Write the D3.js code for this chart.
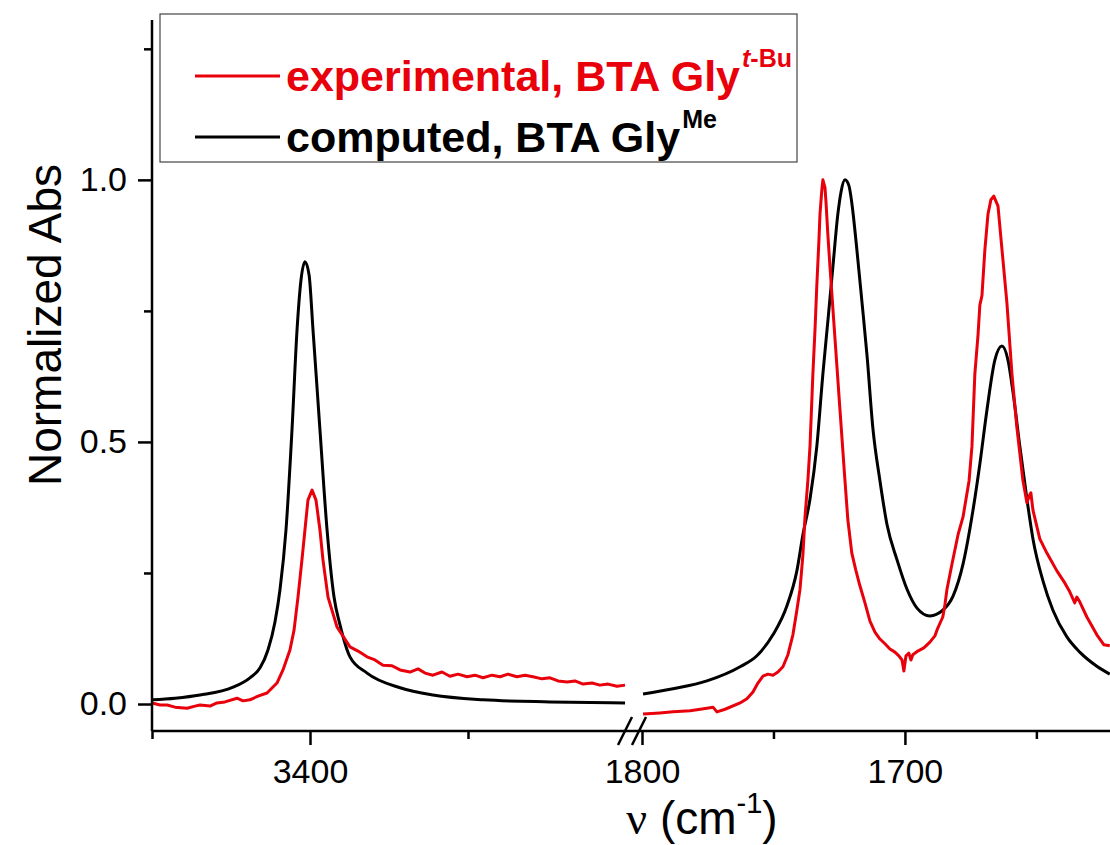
<!DOCTYPE html>
<html>
<head>
<meta charset="utf-8">
<script src="https://cdn.jsdelivr.net/npm/d3@7"></script>
<style>
  body { margin: 0; background: #fff; }
  text { font-family: Arial, "Liberation Sans", sans-serif; }
</style>
</head>
<body>
<div id="plot"></div>
<script>
// spectra: [wavenumber (cm-1), normalized abs]
var expLeft = [
  [3500, 0.002], [3494.9, -0.002], [3490.5, -0.002], [3485.4, -0.006], [3477.8, -0.008],
  [3472.8, -0.004], [3469.6, -0.002], [3463.3, -0.004], [3458.9, 0.002], [3453.8, 0.004],
  [3446.2, 0.011], [3442.4, 0.006], [3438, 0.008], [3432.9, 0.015], [3427.2, 0.021],
  [3420.9, 0.040], [3417.1, 0.065], [3412.7, 0.103], [3410.1, 0.141], [3407.6, 0.204],
  [3405.1, 0.275], [3403.2, 0.332], [3401.3, 0.389], [3398.7, 0.408], [3396.2, 0.389],
  [3393.7, 0.332], [3391.8, 0.275], [3388.6, 0.204], [3382.9, 0.147], [3374.7, 0.109],
  [3369.6, 0.101], [3363.9, 0.090], [3358.9, 0.084], [3353.8, 0.074], [3348.1, 0.073],
  [3343, 0.065], [3336.7, 0.061], [3331.6, 0.067], [3327.2, 0.059], [3322.2, 0.055],
  [3316.5, 0.061], [3311.4, 0.053], [3306.3, 0.057], [3300.6, 0.052], [3295.6, 0.055],
  [3290.5, 0.050], [3284.8, 0.055], [3279.7, 0.052], [3274.7, 0.057], [3269.0, 0.052],
  [3263.9, 0.055], [3258.9, 0.052], [3253.2, 0.048], [3248.1, 0.050], [3243.0, 0.044],
  [3237.3, 0.042], [3232.3, 0.044], [3227.2, 0.038], [3221.5, 0.040], [3216.5, 0.036],
  [3211.4, 0.038], [3205.7, 0.034], [3200.6, 0.036]
];
var calcLeft = [
  [3500, 0.008], [3485.4, 0.011], [3469.6, 0.017], [3448.7, 0.032], [3438, 0.050],
  [3431.6, 0.069], [3426.6, 0.103], [3422.2, 0.156], [3419, 0.218], [3415.2, 0.332],
  [3411.4, 0.523], [3408.2, 0.714], [3405.7, 0.809], [3403.2, 0.844], [3400.6, 0.819],
  [3398.1, 0.714], [3393.7, 0.523], [3389.2, 0.332], [3384.8, 0.204], [3381, 0.151],
  [3374.7, 0.090], [3363.9, 0.059], [3343, 0.031], [3322.2, 0.017], [3290.5, 0.008],
  [3248.1, 0.004], [3200.6, 0.002]
];
var expRight = [
  [1799.6, -0.019], [1793.2, -0.017], [1788.2, -0.015], [1781.7, -0.013], [1775.3, -0.008],
  [1773.0, -0.006], [1771.5, -0.015], [1768.4, -0.010], [1762.7, 0.002], [1760.1, 0.010],
  [1757.8, 0.023], [1755.9, 0.040], [1754.0, 0.053], [1752.1, 0.057], [1750.2, 0.055],
  [1748.3, 0.061], [1746.4, 0.071], [1744.5, 0.094], [1742.6, 0.132], [1741.1, 0.179],
  [1739.9, 0.219], [1738.8, 0.284], [1738.0, 0.357], [1736.9, 0.427], [1736.1, 0.492],
  [1735.0, 0.630], [1734.2, 0.714], [1733.5, 0.800], [1732.7, 0.885], [1732.3, 0.935],
  [1731.6, 0.981], [1731.2, 1.000], [1730.4, 0.985], [1730.0, 0.956], [1729.3, 0.895],
  [1728.5, 0.834], [1726.6, 0.697], [1724.7, 0.561], [1722.8, 0.426], [1721.7, 0.351],
  [1720.2, 0.288], [1718.7, 0.256], [1717.2, 0.227], [1715.2, 0.193], [1713.3, 0.158],
  [1711.4, 0.137], [1709.5, 0.124], [1707.6, 0.115], [1705.7, 0.105], [1703.8, 0.099],
  [1702.3, 0.092], [1701.1, 0.084], [1700.4, 0.063], [1699.6, 0.092], [1698.5, 0.097],
  [1697.7, 0.084], [1697.0, 0.094], [1695.1, 0.101], [1692.8, 0.107], [1690.5, 0.118],
  [1688.6, 0.130], [1687.5, 0.145], [1685.6, 0.166], [1684.8, 0.189], [1684.0, 0.219],
  [1682.1, 0.267], [1679.8, 0.323], [1677.9, 0.357], [1675.6, 0.426], [1674.5, 0.492],
  [1673.4, 0.630], [1672.2, 0.704], [1671.5, 0.761], [1670.7, 0.779], [1669.6, 0.866],
  [1668.4, 0.935], [1667.3, 0.962], [1666.2, 0.969], [1664.6, 0.950],
  [1663.1, 0.868], [1661.2, 0.765], [1659.3, 0.630], [1657.4, 0.527], [1655.1, 0.426],
  [1653.6, 0.384], [1652.9, 0.395], [1652.1, 0.403], [1651.3, 0.370], [1648.7, 0.315],
  [1646.0, 0.288], [1642.2, 0.254], [1639.2, 0.231], [1637.3, 0.214], [1635.4, 0.193],
  [1634.6, 0.204], [1633.5, 0.195], [1630.8, 0.166], [1627.0, 0.132], [1624.3, 0.113],
  [1622.1, 0.111]
];
var calcRight = [
  [1799.6, 0.019], [1788.2, 0.029], [1775.3, 0.044], [1762.7, 0.071], [1756.3, 0.092],
  [1750.2, 0.132], [1744.9, 0.187], [1741.1, 0.254], [1738.8, 0.323], [1736.1, 0.391],
  [1733.5, 0.492], [1731.2, 0.630], [1729.3, 0.731], [1727.4, 0.834], [1725.5, 0.935],
  [1724.3, 0.977], [1722.8, 1.000], [1721.3, 0.989], [1720.2, 0.956], [1718.3, 0.868],
  [1716.3, 0.765], [1714.4, 0.664], [1712.2, 0.527], [1709.5, 0.426], [1706.8, 0.342],
  [1703.0, 0.275], [1699.2, 0.219], [1695.4, 0.183], [1690.5, 0.168], [1685.6, 0.179],
  [1681.7, 0.206], [1677.9, 0.267], [1674.1, 0.370], [1671.5, 0.458], [1668.8, 0.561],
  [1665.8, 0.656], [1663.1, 0.683], [1660.8, 0.656], [1658.9, 0.595], [1656.3, 0.492],
  [1653.6, 0.391], [1651.3, 0.315], [1647.5, 0.235], [1643.7, 0.179], [1638.4, 0.128],
  [1633.5, 0.099], [1627.0, 0.072], [1622.1, 0.057]
];

// axis ticks
var yMajor = [0, 0.5, 1.0];
var yMinor = [0.25, 0.75, 1.25];
var leftMajor = [3400];
var leftMinor = [3500, 3300];
var rightMajor = [1800, 1700];
var rightMinor = [1750, 1650];

var red = "#e8000b";

var svg = d3.select("#plot").append("svg")
  .attr("width", 1110)
  .attr("height", 845);

// scales: broken x axis, two panels
var y = d3.scaleLinear().domain([-0.0515, 1.305]).range([731, 20]);
var xL = d3.scaleLinear().domain([3500, 3200]).range([152, 626]);
var xR = d3.scaleLinear().domain([1800, 1622]).range([642, 1110]);

var yAxisX = 152, xAxisY = 731;

// curves
function drawLine(data, xs, color, curve) {
  var line = d3.line()
    .x(function(d) { return xs(d[0]); })
    .y(function(d) { return y(d[1]); })
    .curve(curve);
  svg.append("path")
    .datum(data)
    .attr("fill", "none")
    .attr("stroke", color)
    .attr("stroke-width", 3)
    .attr("stroke-linejoin", "round")
    .attr("d", line);
}
drawLine(calcLeft, xL, "#000", d3.curveMonotoneX);
drawLine(calcRight, xR, "#000", d3.curveMonotoneX);
drawLine(expLeft, xL, red, d3.curveLinear);
drawLine(expRight, xR, red, d3.curveLinear);

// y axis
svg.append("g")
  .attr("transform", "translate(" + yAxisX + ",0)")
  .call(d3.axisLeft(y).tickValues(yMinor).tickSize(8).tickFormat(""))
  .call(function(g) { g.select(".domain").remove(); });
var yAx = svg.append("g")
  .attr("transform", "translate(" + yAxisX + ",0)")
  .call(d3.axisLeft(y).tickValues(yMajor).tickSize(14).tickPadding(11).tickFormat(d3.format(".1f")));
yAx.select(".domain").remove();
yAx.selectAll("text").attr("font-size", 34).attr("fill", "#000");
svg.selectAll(".tick line").attr("stroke-width", 2.5);
svg.append("line")
  .attr("x1", yAxisX).attr("x2", yAxisX)
  .attr("y1", 20).attr("y2", xAxisY)
  .attr("stroke", "#000").attr("stroke-width", 2.5);

// x axis (both panels)
function xTicks(xs, major, minor) {
  var gMin = svg.append("g")
    .attr("transform", "translate(0," + xAxisY + ")")
    .call(d3.axisBottom(xs).tickValues(minor).tickSize(8).tickFormat(""));
  gMin.select(".domain").remove();
  gMin.selectAll("line").attr("stroke-width", 2.5);
  var gMaj = svg.append("g")
    .attr("transform", "translate(0," + xAxisY + ")")
    .call(d3.axisBottom(xs).tickValues(major).tickSize(14).tickPadding(14).tickFormat(d3.format("d")));
  gMaj.select(".domain").remove();
  gMaj.selectAll("line").attr("stroke-width", 2.5);
  gMaj.selectAll("text").attr("font-size", 34).attr("fill", "#000");
}
xTicks(xL, leftMajor, leftMinor);
xTicks(xR, rightMajor, rightMinor);

svg.append("line")
  .attr("x1", yAxisX).attr("x2", 1110)
  .attr("y1", xAxisY).attr("y2", xAxisY)
  .attr("stroke", "#000").attr("stroke-width", 2.5);

// break marks
[[618, 632], [632, 646]].forEach(function(b) {
  svg.append("line")
    .attr("x1", b[0]).attr("y1", xAxisY + 14)
    .attr("x2", b[1]).attr("y2", xAxisY - 14)
    .attr("stroke", "#000").attr("stroke-width", 2.5);
});

// axis titles
svg.append("text")
  .attr("transform", "translate(61,325) rotate(-90)")
  .attr("text-anchor", "middle")
  .attr("font-size", 46)
  .text("Normalized Abs");

var xt = svg.append("text")
  .attr("x", 702).attr("y", 834)
  .attr("text-anchor", "middle")
  .attr("font-size", 46);
xt.append("tspan").attr("font-family", "'Liberation Serif', 'Times New Roman', serif").text("ν");
xt.append("tspan").text(" (cm");
xt.append("tspan").attr("font-size", 29).attr("dy", -21).text("-1");
xt.append("tspan").attr("dy", 21).text(")");

// legend
var lg = svg.append("g");
lg.append("rect")
  .attr("x", 160).attr("y", 14).attr("width", 637).attr("height", 148)
  .attr("fill", "#fff").attr("stroke", "#444").attr("stroke-width", 1.2);
var entries = [
  {color: red, y: 76, label: "experimental, BTA Gly", sup: [["t", "italic"], ["-Bu", "normal"]]},
  {color: "#000", y: 137, label: "computed, BTA Gly", sup: [["Me", "normal"]]}
];
entries.forEach(function(e) {
  lg.append("line")
    .attr("x1", 195).attr("x2", 280)
    .attr("y1", e.y).attr("y2", e.y)
    .attr("stroke", e.color).attr("stroke-width", 3);
  var t = lg.append("text")
    .attr("x", 286).attr("y", e.y + 15)
    .attr("font-size", 43).attr("font-weight", "bold")
    .attr("fill", e.color);
  t.append("tspan").text(e.label);
  e.sup.forEach(function(s, i) {
    t.append("tspan")
      .attr("dy", i === 0 ? -24 : 0)
      .attr("dx", i === 0 ? 2 : 0)
      .attr("font-size", 25)
      .attr("font-style", s[1])
      .text(s[0]);
  });
});
</script>
</body>
</html>
